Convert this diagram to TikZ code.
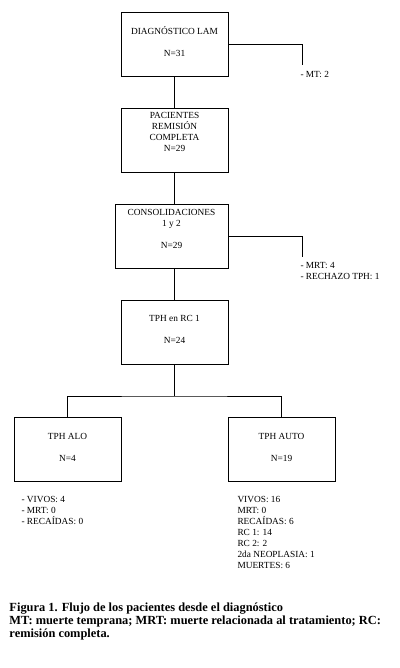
\documentclass[tikz,border=0pt]{standalone}
\usepackage{fontspec}
\setmainfont{Liberation Serif}
\usetikzlibrary{positioning}

\begin{document}
\begin{tikzpicture}[x=0.75pt,y=-0.75pt,line width=0.75pt,
  box/.style={draw,minimum width=80.25pt,minimum height=48pt,inner sep=0pt},
  txt/.style={font=\fontsize{7}{8.25}\selectfont,align=center,anchor=base,inner sep=0pt},
  lst/.style={font=\fontsize{7}{8.25}\selectfont,align=left,anchor=base west,inner sep=0pt},
  captxt/.style={font=\bfseries\fontsize{9.3}{8.25}\selectfont,align=left,anchor=base west,inner sep=0pt}
]
  \useasboundingbox (0,0) rectangle (400,668);
  % boxes
  \node[box] (diag) at (174.5,44) {};
  \node[txt] (diagt) at (174.5,56) {DIAGNÓSTICO LAM\\[8.25pt]N=31};
  \node[box] (rc) at (174.5,140) {};
  \node[txt] (rct) at (174.5,151) {PACIENTES\\REMISIÓN\\COMPLETA\\N=29};
  \node[box,minimum width=84.75pt] (cons) at (171.5,236) {};
  \node[txt] (const) at (171.5,248) {CONSOLIDACIONES\\1 y 2\\[8.25pt]N=29};
  \node[box] (tph) at (174.5,332) {};
  \node[txt] (tpht) at (174.5,343) {TPH en RC 1\\[8.25pt]N=24};
  \node[box] (alo) at (67.5,449) {};
  \node[txt] (alot) at (67.5,461) {TPH ALO\\[8.25pt]N=4};
  \node[box] (auto) at (281.5,449) {};
  \node[txt] (autot) at (281.5,461) {TPH AUTO\\[8.25pt]N=19};
  % connectors
  \coordinate (mt) at (302,65);
  \coordinate (mrt) at (302,257);
  \coordinate (fork) at (174.5,396);
  \draw (diag) -- (rc);
  \draw (rc) -- (rc.south |- cons.north);
  \draw (tph.north |- cons.south) -- (tph);
  \draw (tph) -- (fork);
  \draw (alo) |- (fork) -| (auto);
  \draw (diag) -| (mt);
  \draw (cons) -| (mrt);
  % side notes
  \node[lst] (mtl) at (300,77) {- MT: 2};
  \node[lst] (mrtl) at (300,279) {- MRT: 4\\- RECHAZO TPH: 1};
  \node[lst] (alol) at (21,524) {- VIVOS: 4\\- MRT: 0\\- RECAÍDAS: 0};
  \node[lst] (autol) at (237,568) {VIVOS: 16\\MRT: 0\\RECAÍDAS: 6\\RC 1: 14\\RC 2: 2\\2da NEOPLASIA: 1\\MUERTES: 6};
  % caption
  \node[captxt] (capt) at (9,637) {Figura 1. Flujo de los pacientes desde el diagnóstico\\MT: muerte temprana; MRT: muerte relacionada al tratamiento; RC:\\remisión completa.};
\end{tikzpicture}
\end{document}
